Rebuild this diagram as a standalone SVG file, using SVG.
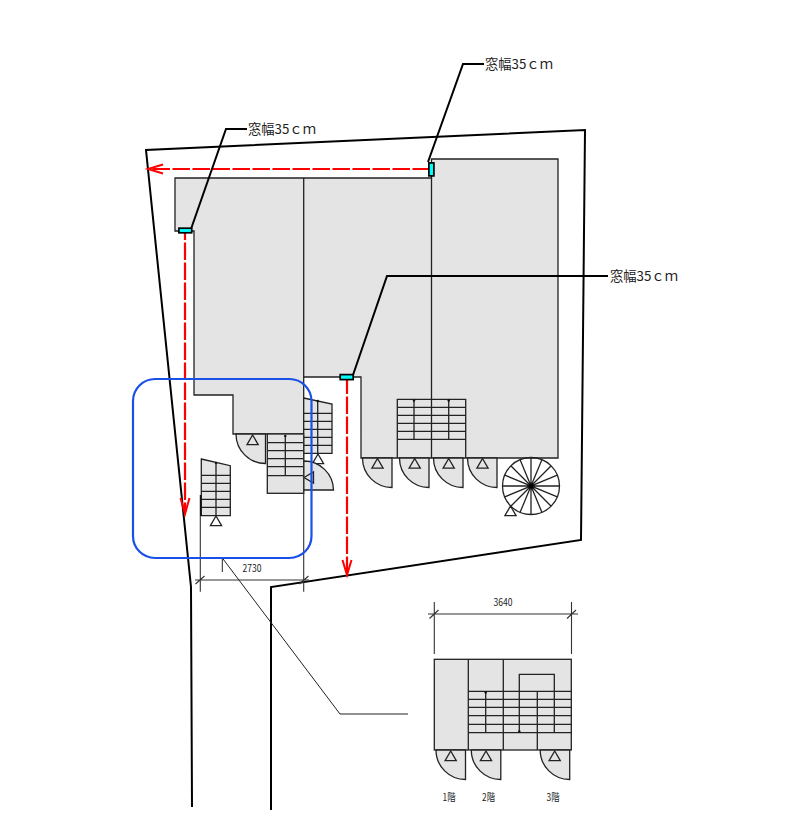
<svg xmlns="http://www.w3.org/2000/svg" width="787" height="824" viewBox="0 0 787 824">
<style>
.g{fill:#e4e4e4;stroke:#222;stroke-width:1.3}
.l{fill:none;stroke:#222;stroke-width:1.3}
.d{fill:none;stroke:#333;stroke-width:1.1}
.b{fill:none;stroke:#000;stroke-width:2}
.r{fill:none;stroke:#f00;stroke-width:2.2;stroke-dasharray:17.5 2.5}
.a{fill:none;stroke:#f00;stroke-width:2}
.w{fill:#00ffff;stroke:#000;stroke-width:1.7}
text{fill:#222;font-family:"Noto Sans CJK JP","Noto Sans",sans-serif}
.s{font-size:13.3px}
.n{font-size:10px;text-anchor:middle;font-family:"Noto Sans CJK JP","Noto Sans",sans-serif}
</style>
<defs>
<path id="tri" d="M0,0L5.600,9.600H-5.600Z" style="fill:none;stroke:#222;stroke-width:1.300"/>
<path id="door" d="M0,0A29.5,29.5 0 0 0 29.5,29.5V0Z" class="g"/>
</defs>
<g id="lot"><path class="b" d="M192,807L191,587L146,150L585,130L581,540L271,587V810"/></g>
<g id="building">
<path class="g" d="M175,178H431.500V159H558V458H361V377H303.700V434H233V395H194V231H175Z"/>
<path class="l" d="M303.700,178V377M431.500,178V458"/>
</g>
<g id="stairs-center">
<rect class="g" x="267.300" y="434" width="36.400" height="59.300"/>
<path class="l" d="M267.300,442.700H303.700M267.300,450.700H303.700M267.300,458.700H303.700M267.300,466.700H303.700M267.300,475.700H303.700M285.300,436V475.700"/>
<circle cx="285.300" cy="436" r="1.200" fill="#111"/>
</g>
<g id="stairs-right">
<path class="g" d="M303.700,398L332,404V453.300H303.700Z"/>
<path class="l" d="M303.700,413.300H332M303.700,421.300H332M303.700,429.300H332M303.700,437.300H332M303.700,445.300H332M317.700,401V453.300"/>
<circle cx="317.700" cy="401" r="1.200" fill="#111"/>
</g>
<g id="stairs-left">
<path class="g" d="M201.300,459L230.300,465.700V515.700H201.300Z"/>
<path class="l" d="M201.300,475.300H230.300M201.300,483.300H230.300M201.300,491.300H230.300M201.300,499.300H230.300M201.300,507.300H230.300M216,463V515.700"/>
<circle cx="216" cy="463" r="1.200" fill="#111"/>
</g>
<g id="stairs-main">
<path class="l" d="M397.300,458V399.300H465.700V458M397.300,407.300H465.700M397.300,415.300H465.700M397.300,423.300H465.700M397.300,431.300H465.700M397.300,439.300H465.700M414,400V439.300M448.700,400V439.300"/>
<circle cx="414" cy="400.500" r="1.200" fill="#111"/>
<circle cx="448.700" cy="400.500" r="1.200" fill="#111"/>
</g>
<g id="doors">
<use href="#door" x="236" y="434"/><use href="#tri" x="252.600" y="435"/>
<use href="#tri" x="318" y="454"/>
<path class="g" d="M303.700,461A29.500,29.500 0 0 1 333.500,490H303.700Z"/>
<path d="M304,477.500L313.500,472V483Z" style="fill:none;stroke:#222;stroke-width:1.300"/>
<use href="#tri" x="216" y="516"/>
<use href="#door" x="362.500" y="458"/><use href="#tri" x="377.500" y="458.500"/>
<use href="#door" x="399.500" y="458"/><use href="#tri" x="414.700" y="458.500"/>
<use href="#door" x="433.500" y="458"/><use href="#tri" x="448.700" y="458.500"/>
<use href="#door" x="467.500" y="458"/><use href="#tri" x="482.500" y="458.500"/>
</g>
<g id="spiral">
<circle class="l" cx="531" cy="486" r="28.500"/>
<path class="l" d="M531,457.500V514.500M502.500,486H559.500M510.800,465.800L551.200,506.200M551.200,465.800L510.800,506.200M520.100,459.700L541.900,512.300M541.900,459.700L520.100,512.300M504.700,475.100L557.300,496.900M557.300,475.100L504.700,496.900"/>
<circle cx="531" cy="486" r="2.500" fill="#000"/>
<use href="#tri" x="510.500" y="506"/>
</g>
<g id="inset">
<rect class="g" x="434.300" y="659.300" width="137" height="90.700"/>
<path class="l" d="M468.300,659.300V750M503.300,659.300V750M468.300,691.300H571.300M468.300,699.300H571.300M468.300,707.300H571.300M468.300,715.700H571.300M468.300,724.300H571.300M468.300,732.700H571.300M485.700,692V732.700M519.300,732.700V674.300H554.300V732.700M537.300,691.300V750"/>
<circle cx="485.700" cy="692.500" r="1.200" fill="#111"/>
<circle cx="519.300" cy="731.500" r="1.200" fill="#111"/>
<use href="#door" x="436" y="750"/><use href="#tri" x="450.700" y="751"/>
<use href="#door" x="471.300" y="750"/><use href="#tri" x="486" y="751"/>
<use href="#door" x="540.200" y="750"/><use href="#tri" x="554.700" y="751"/>
</g>
<g id="dimensions">
<path class="d" d="M200.300,495V591.700M303.700,434V591.700M195,580H309M195.500,584L204.500,576M299.500,584L308.500,576"/>
<path d="M200.800,495V516" stroke="#111" stroke-width="1.500" fill="none"/>
<path class="d" d="M428,614H578M434.300,602V654M571.500,602V654M429.500,618.500L438.500,610M567,618.500L576,610"/>
</g>
<g id="connectors">
<path class="r" d="M430,169H150"/>
<path class="a" d="M163,164.500L148,169L163,173.500"/>
<path class="r" stroke-dashoffset="10.500" d="M185,233V512"/>
<path class="a" d="M180.500,498L185,514L189.500,498"/>
<path class="r" stroke-dashoffset="3.500" d="M347,380V573"/>
<path class="a" d="M342.500,560L347,575L351.500,560"/>
<path class="b" d="M191,229L226,129H247M428,162L463,64H484M353,375L387,276H608"/>
<path d="M222.300,558V572M222.300,558L340,714H408" fill="none" stroke="#222" stroke-width="1"/>
</g>
<g id="windows">
<rect class="w" x="178.900" y="228.200" width="12.800" height="4.600"/>
<rect class="w" x="428.900" y="162.900" width="5" height="13"/>
<rect class="w" x="340.200" y="374.600" width="13" height="5"/>
</g>
<g id="highlight"><rect x="133" y="379" width="178.500" height="179" rx="22" fill="none" stroke="#1a50ea" stroke-width="2.200"/></g>
<g id="labels">
<text class="s" x="248" y="134">窓幅35ｃｍ</text>
<text class="s" x="485" y="69">窓幅35ｃｍ</text>
<text class="s" x="610" y="281">窓幅35ｃｍ</text>
<text class="n" x="252" y="572" textLength="19" lengthAdjust="spacingAndGlyphs">2730</text>
<text class="n" x="503" y="606" textLength="19" lengthAdjust="spacingAndGlyphs">3640</text>
<text class="n" x="449" y="801" textLength="13" lengthAdjust="spacingAndGlyphs">1階</text>
<text class="n" x="488.500" y="801" textLength="13" lengthAdjust="spacingAndGlyphs">2階</text>
<text class="n" x="553" y="801" textLength="13" lengthAdjust="spacingAndGlyphs">3階</text>
</g>
</svg>
